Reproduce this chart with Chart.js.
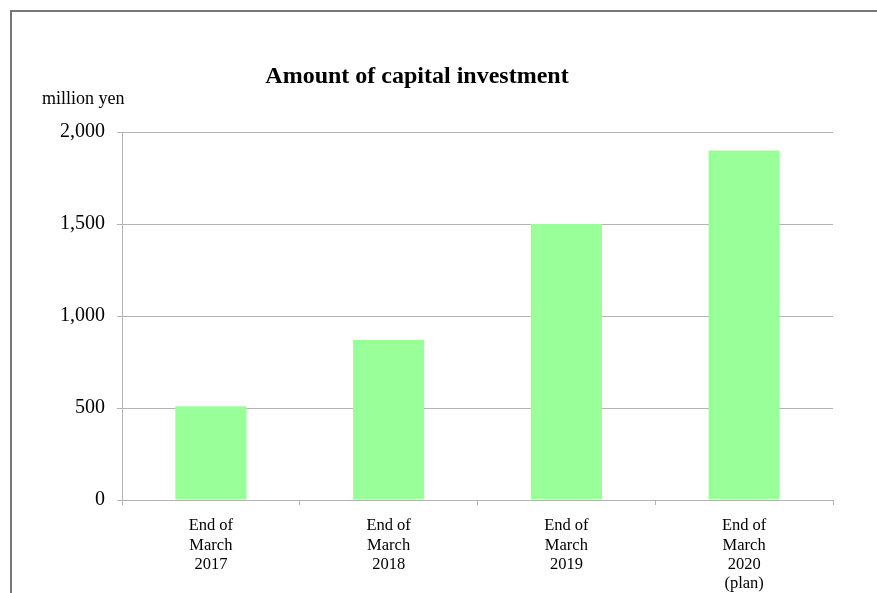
<!DOCTYPE html>
<html>
<head>
<meta charset="utf-8">
<script src="https://cdn.jsdelivr.net/npm/chart.js@4.4.1/dist/chart.umd.min.js"></script>
<style>
html, body { margin: 0; padding: 0; background: #fff; overflow: hidden; }
#frame { position: absolute; left: 10px; top: 10px; width: 1000px; height: 800px; border: 2px solid #777; box-sizing: border-box; }
#chart { position: absolute; left: 0; top: 0; }
</style>
</head>
<body>
<div id="frame"></div>
<canvas id="chart" width="877" height="593"></canvas>
<script>
// data
var categories = [
    ["End of", "March", "2017"],
    ["End of", "March", "2018"],
    ["End of", "March", "2019"],
    ["End of", "March", "2020", "(plan)"]
];
var investment = [510, 870, 1500, 1900];
var yTicks = [0, 500, 1000, 1500, 2000];
var chartTitle = "Amount of capital investment";
var unitLabel = "million yen";

var serif = "'Liberation Serif', 'Times New Roman', serif";
var gridColor = '#b3b3b3';

// title and unit label drawn as plain text on the canvas
var textPlugin = {
    id: 'texts',
    afterDraw: function(chart) {
        var ctx = chart.ctx;
        ctx.save();
        ctx.fillStyle = '#000';
        ctx.textBaseline = 'alphabetic';
        ctx.font = "bold 24px " + serif;
        ctx.textAlign = 'center';
        ctx.fillText(chartTitle, 417, 83);
        ctx.font = "18px " + serif;
        ctx.textAlign = 'left';
        ctx.fillText(unitLabel, 42, 104);
        ctx.restore();
    }
};

var ctx = document.getElementById('chart').getContext('2d');
var myChart = new Chart(ctx, {
    type: 'bar',
    data: {
        labels: categories,
        datasets: [{
            label: chartTitle,
            data: investment,
            backgroundColor: '#99ff99',
            borderWidth: 0,
            barPercentage: 0.4,
            categoryPercentage: 1.0
        }]
    },
    options: {
        responsive: false,
        animation: false,
        layout: { padding: { top: 132, right: 44, left: 0, bottom: 0 } },
        plugins: {
            legend: { display: false },
            tooltip: { enabled: false },
            title: { display: false }
        },
        scales: {
            x: {
                offset: true,
                grid: { drawOnChartArea: false, tickLength: 5, color: gridColor, offset: true },
                border: { color: gridColor },
                ticks: {
                    color: '#000',
                    font: { family: serif, size: 16.5, lineHeight: 1.18 },
                    padding: 11,
                    maxRotation: 0,
                    autoSkip: false
                },
                afterFit: function(scale) { scale.height = 93; }
            },
            y: {
                min: 0,
                max: 2000,
                afterBuildTicks: function(scale) {
                    scale.ticks = yTicks.map(function(v) { return { value: v }; });
                },
                grid: { color: gridColor, tickLength: 5 },
                border: { color: gridColor },
                ticks: {
                    color: '#000',
                    font: { family: serif, size: 20 },
                    padding: 12,
                    callback: function(value) { return value.toLocaleString('en-US'); }
                },
                afterFit: function(scale) { scale.width = 122; }
            }
        }
    },
    plugins: [textPlugin]
});
</script>
</body>
</html>
